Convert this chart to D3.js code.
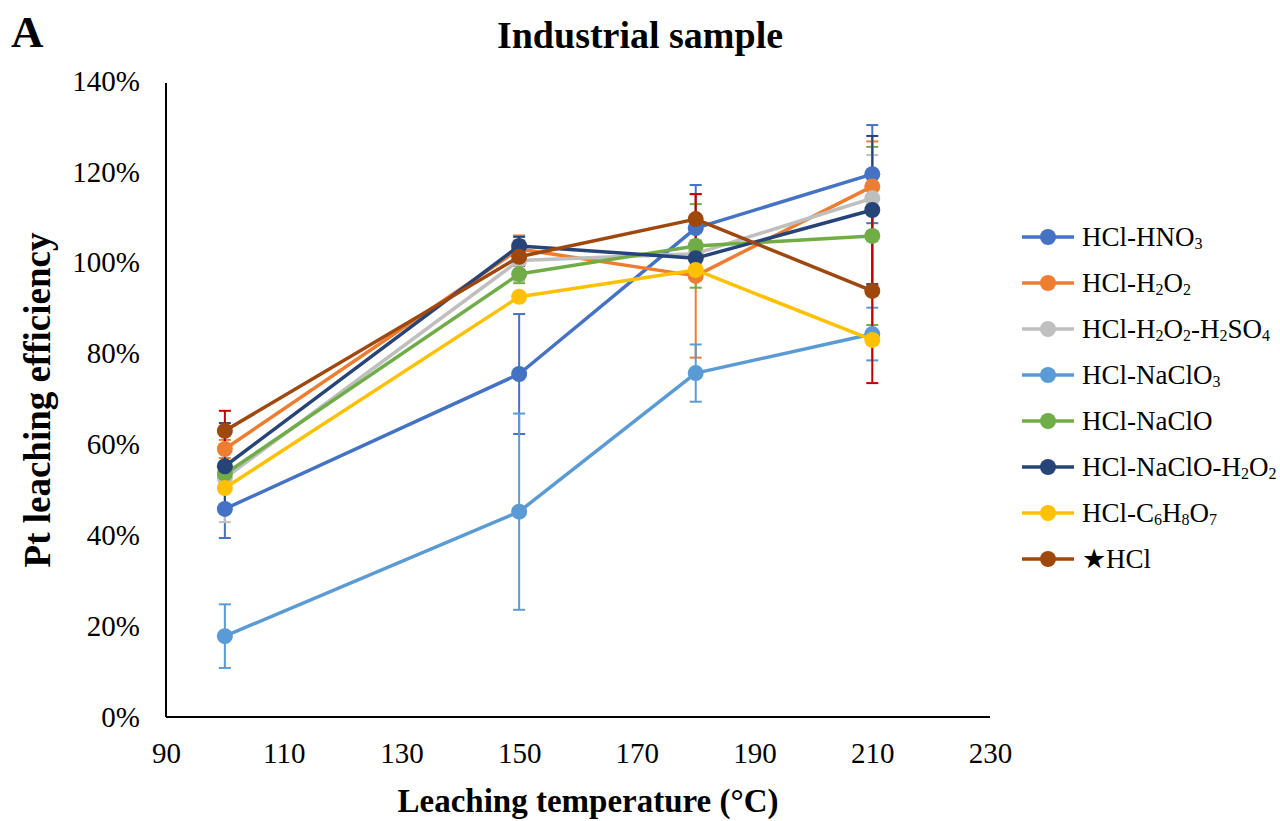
<!DOCTYPE html>
<html>
<head>
<meta charset="utf-8">
<script src="https://cdn.jsdelivr.net/npm/d3@7"></script>
<style>
  body { margin: 0; background: #fff; }
  text { font-family: "Liberation Serif", "Times New Roman", serif; }
</style>
</head>
<body>
<svg id="chart" width="1280" height="821"></svg>
<script>
// temperatures (x) and tick values
const temps = [100, 150, 180, 210];
const xTicks = [90, 110, 130, 150, 170, 190, 210, 230];
const yTicks = [0, 0.2, 0.4, 0.6, 0.8, 1.0, 1.2, 1.4];

// legend names, split into [text, isSubscript] parts
const names = [
  [["HCl-HNO", 0], ["3", 1]],
  [["HCl-H", 0], ["2", 1], ["O", 0], ["2", 1]],
  [["HCl-H", 0], ["2", 1], ["O", 0], ["2", 1], ["-H", 0], ["2", 1], ["SO", 0], ["4", 1]],
  [["HCl-NaClO", 0], ["3", 1]],
  [["HCl-NaClO", 0]],
  [["HCl-NaClO-H", 0], ["2", 1], ["O", 0], ["2", 1]],
  [["HCl-C", 0], ["6", 1], ["H", 0], ["8", 1], ["O", 0], ["7", 1]],
  [["\u2605HCl", 0]]
];
const colors = ["#4472C4", "#ED7D31", "#BFBFBF", "#5B9BD5", "#70AD47", "#264478", "#FFC000", "#9E480E"];
const errColors = ["#4472C4", "#ED7D31", "#BFBFBF", "#5B9BD5", "#70AD47", "#264478", "#FFC000", "#C00000"];

// efficiency values per series
const hno3    = [0.458, 0.755, 1.076, 1.195];
const h2o2    = [0.590, 1.030, 0.971, 1.168];
const h2o2so4 = [0.526, 1.005, 1.020, 1.142];
const naclo3  = [0.178, 0.452, 0.757, 0.843];
const naclo   = [0.535, 0.975, 1.037, 1.059];
const nacloh  = [0.552, 1.037, 1.010, 1.116];
const citric  = [0.504, 0.925, 0.984, 0.830];
const hcl     = [0.630, 1.013, 1.096, 0.938];

// error bar half-widths per series
const hno3Err    = [0.064, 0.132, 0.095, 0.108];
const h2o2Err    = [0.020, 0.030, 0.180, 0.099];
const h2o2soErr  = [0.097, 0.045, 0.030, 0.095];
const naclo3Err  = [0.070, 0.216, 0.063, 0.058];
const nacloErr   = [0.020, 0.020, 0.092, 0.196];
const naclohErr  = [0.095, 0.020, 0.020, 0.163];
const citricErr  = [0.010, 0.010, 0.010, 0.010];
const hclErr     = [0.044, 0.020, 0.055, 0.203];

const values = [hno3, h2o2, h2o2so4, naclo3, naclo, nacloh, citric, hcl];
const errs = [hno3Err, h2o2Err, h2o2soErr, naclo3Err, nacloErr, naclohErr, citricErr, hclErr];

const series = values.map((v, i) => ({
  name: names[i], color: colors[i], ecolor: errColors[i],
  pts: temps.map((t, j) => ({ x: t, y: v[j], e: errs[i][j] }))
}));

const svg = d3.select("#chart");
const mLeft = 166, mRight = 990, mTop = 81, mBottom = 717;

const x = d3.scaleLinear().domain([90, 230]).range([mLeft, mRight]);
const y = d3.scaleLinear().domain([0, 1.4]).range([mBottom, mTop]);

// axes
svg.append("g")
  .attr("transform", `translate(0,${mBottom})`)
  .call(d3.axisBottom(x).tickValues(xTicks).tickSize(0).tickPadding(25))
  .call(g => g.select(".domain").attr("stroke", "#000").attr("stroke-width", 2)
              .attr("d", `M${mLeft},0H${mRight}`))
  .call(g => g.selectAll("text").attr("font-size", 29).attr("font-family", "Liberation Serif").attr("fill", "#000"));

svg.append("g")
  .attr("transform", `translate(${mLeft},0)`)
  .call(d3.axisLeft(y).tickValues(yTicks).tickFormat(d3.format(".0%")).tickSize(0).tickPadding(26))
  .call(g => g.select(".domain").attr("stroke", "#000").attr("stroke-width", 2)
              .attr("d", `M0,${y(1.4) + 2}V${mBottom}`))
  .call(g => g.selectAll("text").attr("font-size", 29).attr("font-family", "Liberation Serif").attr("fill", "#000"));

// error bars
const cap = 6;
series.forEach(s => {
  const g = svg.append("g").attr("stroke", s.ecolor).attr("stroke-width", 2);
  s.pts.forEach(p => {
    g.append("line").attr("x1", x(p.x)).attr("x2", x(p.x)).attr("y1", y(p.y - p.e)).attr("y2", y(p.y + p.e));
    g.append("line").attr("x1", x(p.x) - cap).attr("x2", x(p.x) + cap).attr("y1", y(p.y + p.e)).attr("y2", y(p.y + p.e));
    g.append("line").attr("x1", x(p.x) - cap).attr("x2", x(p.x) + cap).attr("y1", y(p.y - p.e)).attr("y2", y(p.y - p.e));
  });
});

// lines and markers
const line = d3.line().x(d => x(d.x)).y(d => y(d.y));
series.forEach(s => {
  svg.append("path").datum(s.pts)
    .attr("d", line).attr("fill", "none")
    .attr("stroke", s.color).attr("stroke-width", 3.5).attr("stroke-linejoin", "round");
  svg.append("g").selectAll("circle").data(s.pts).join("circle")
    .attr("cx", d => x(d.x)).attr("cy", d => y(d.y)).attr("r", 8)
    .attr("fill", s.color);
});

// legend
const legend = svg.append("g").attr("transform", "translate(1022,237)");
series.forEach((s, i) => {
  const row = legend.append("g").attr("transform", `translate(0,${i * 46})`);
  row.append("line").attr("x1", 0).attr("x2", 52).attr("stroke", s.color).attr("stroke-width", 3.5);
  row.append("circle").attr("cx", 26).attr("r", 8).attr("fill", s.color);
  const t = row.append("text").attr("x", 60).attr("y", 9).attr("font-size", 27).attr("fill", "#000");
  let sub = false;
  s.name.forEach(([str, isSub]) => {
    const ts = t.append("tspan").text(str);
    if (isSub && !sub) { ts.attr("font-size", 16).attr("dy", 3); sub = true; }
    else if (isSub) { ts.attr("font-size", 16); }
    else if (sub) { ts.attr("dy", -3); sub = false; }
  });
});

// titles
svg.append("text").attr("x", 11).attr("y", 47).attr("font-size", 45).attr("font-weight", "bold").text("A");
svg.append("text").attr("x", 640).attr("y", 48).attr("text-anchor", "middle")
  .attr("font-size", 38).attr("font-weight", "bold").text("Industrial sample");
svg.append("text").attr("x", 588).attr("y", 812).attr("text-anchor", "middle")
  .attr("font-size", 33).attr("font-weight", "bold").text("Leaching temperature (\u00B0C)");
svg.append("text").attr("transform", "translate(50,400) rotate(-90)").attr("text-anchor", "middle")
  .attr("font-size", 37).attr("font-weight", "bold").text("Pt leaching efficiency");
</script>
</body>
</html>
